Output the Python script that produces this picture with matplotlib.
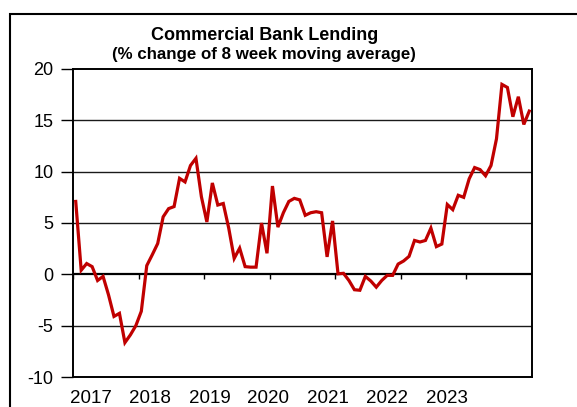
import matplotlib
matplotlib.use("Agg")
import matplotlib.pyplot as plt
from matplotlib.patches import Rectangle
import numpy as np

# Monthly values, Jan 2017 .. Dec 2023 (% change of 8 week moving average)
values = [
    7.1, 0.4, 1.05, 0.75, -0.6, -0.2, -2.0, -4.1, -3.8, -6.65, -5.9, -5.0,     # 2017
    -3.6, 0.85, 1.9, 3.0, 5.6, 6.4, 6.6, 9.35, 9.0, 10.6, 11.3, 7.55,          # 2018
    5.1, 8.9, 6.75, 6.9, 4.5, 1.55, 2.55, 0.75, 0.7, 0.7, 5.0, 2.05,           # 2019
    8.6, 4.6, 6.0, 7.1, 7.4, 7.25, 5.75, 6.0, 6.1, 6.0, 1.7, 5.2,              # 2020
    0.05, 0.1, -0.6, -1.5, -1.55, -0.2, -0.65, -1.25, -0.6, -0.1, -0.1, 1.0,   # 2021
    1.3, 1.75, 3.3, 3.15, 3.3, 4.5, 2.7, 2.95, 6.8, 6.3, 7.7, 7.5,             # 2022
    9.3, 10.4, 10.2, 9.6, 10.6, 13.2, 18.5, 18.2, 15.35, 17.3, 14.6, 15.9,     # 2023
]
start_year = 2017
years = [2017, 2018, 2019, 2020, 2021, 2022, 2023]
year_labels = ["2017", "2018", "2019", "2020", "2021", "2022", "2023"]
label_pos = [2017.27, 2018.17, 2019.08, 2019.98, 2020.89, 2021.79, 2022.70]
y_ticks = [-10, -5, 0, 5, 10, 15, 20]
title = "Commercial Bank Lending"
subtitle = "(% change of 8 week moving average)"

plt.rcParams['font.family'] = ['Liberation Sans', 'DejaVu Sans']

W, H = 577, 407
fig = plt.figure(figsize=(W / 100, H / 100), dpi=100)
fig.patch.set_facecolor('white')

# outer frame (cropped on right and bottom)
fig.patches.append(Rectangle((10 / W, -0.2), 1.5, 1.2 - 14 / H,
                             transform=fig.transFigure, fill=False,
                             edgecolor='black', linewidth=1.5, clip_on=False))

ax = fig.add_axes([73 / W, 1 - 377 / H, (532 - 73) / W, (377 - 69) / H])

x = start_year + (np.arange(len(values)) + 0.5) / 12.0
ax.plot(x, values, color='#C00000', linewidth=2.3, solid_joinstyle='miter', zorder=4)

ax.set_xlim(2017, 2024)
ax.set_ylim(-10, 20)

# gridlines
for yv in [5, 10, 15, -5]:
    ax.axhline(yv, color='#1a1a1a', linewidth=1.0, zorder=1)
ax.axhline(0, color='black', linewidth=1.6, zorder=2)

# year tick marks on the zero line
ax.vlines(years + [2024], -0.45, 0, color='black', linewidth=1.0, zorder=2)

ax.set_yticks(y_ticks)
ax.set_yticklabels([str(v) for v in y_ticks], fontsize=13)
ax.tick_params(axis='y', direction='out', length=8.5, width=1.0, pad=5.5, colors='black')

ax.set_xticks(years + [2024])
ax.set_xticklabels([])
ax.set_xticks(label_pos, minor=True)
ax.set_xticklabels(year_labels, minor=True, fontsize=13.5)
ax.tick_params(axis='x', which='both', length=0, pad=9.5)

for s in ax.spines.values():
    s.set_color('black')
    s.set_linewidth(1.4)

fig.text(265 / W, 1 - 35 / H, title, ha='center', va='center',
         fontsize=13, fontweight='bold')
fig.text(264 / W, 1 - 54 / H, subtitle, ha='center', va='center',
         fontsize=12.2, fontweight='bold')

fig.savefig("out.png", dpi=100)
